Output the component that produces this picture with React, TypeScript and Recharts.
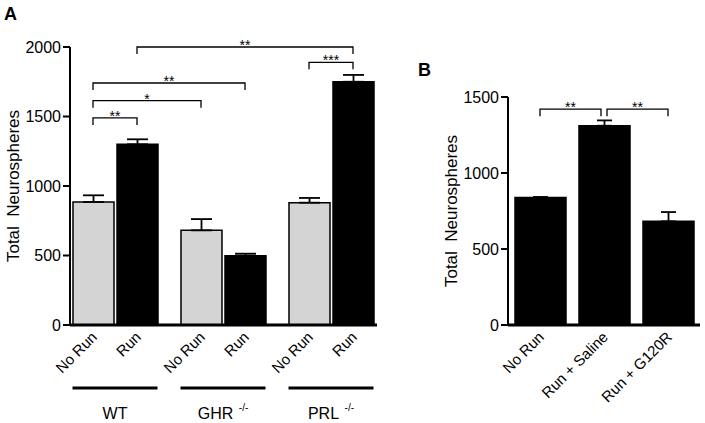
import { Bar, BarChart, ErrorBar, Label, ReferenceLine, XAxis, YAxis } from "recharts"

// Panel A
const groups = ["WT", "GHR", "PRL"]
const groupSup = ["", "-/-", "-/-"]
const treatments = ["No Run", "Run"]
const noRunA = [885, 681, 880]
const noRunErrA = [48, 81, 34]
const runA = [1300, 499, 1750]
const runErrA = [36, 14, 49]
const ticksA = [0, 500, 1000, 1500, 2000]

// significance brackets: which group / which bar (0 = No Run, 1 = Run)
const bracketsA = [
  { from: "WT", fromBar: 0, to: "WT", toBar: 1, y: 1490, label: "**" },
  { from: "WT", fromBar: 0, to: "GHR", toBar: 0, y: 1614, label: "*" },
  { from: "WT", fromBar: 0, to: "GHR", toBar: 1, y: 1741, label: "**" },
  { from: "WT", fromBar: 1, to: "PRL", toBar: 1, y: 2000, label: "**" },
  { from: "PRL", fromBar: 0, to: "PRL", toBar: 1, y: 1890, label: "***" },
]

// Panel B
const conditionsB = ["No Run", "Run + Saline", "Run + G120R"]
const valuesB = [839, 1311, 682]
const errB = [3, 35, 61]
const ticksB = [0, 500, 1000, 1500]
const bracketsB = [
  { from: "No Run", to: "Run + Saline", y: 1420, label: "**" },
  { from: "Run + Saline", to: "Run + G120R", y: 1420, label: "**" },
]

const rowsA = groups.map((g, i) => ({
  group: g,
  noRun: noRunA[i],
  noRunErr: [0, noRunErrA[i]],
  run: runA[i],
  runErr: [0, runErrA[i]],
}))

const rowsB = conditionsB.map((c, i) => ({ cond: c, value: valuesB[i], err: [0, errB[i]] }))

const FONT = "Arial, 'Liberation Sans', sans-serif"
const BAR_A = 41
const GAP_A = 3
const SUB = (BAR_A + GAP_A) / 2
const DROP = 7

const bracketShape = (label: string, dx1: number, dx2: number) => (p: any) => {
  const x1 = p.x1 + dx1
  const x2 = p.x2 + dx2
  const y = p.y1
  return (
    <g>
      <path
        d={`M${x1},${y + DROP} V${y} H${x2} V${y + DROP}`}
        fill="none"
        stroke="#000"
        strokeWidth={1.3}
      />
      <text x={(x1 + x2) / 2} y={y + 3} textAnchor="middle" fontSize={14} fill="#000">
        {label}
      </text>
    </g>
  )
}

const yTitle = (x: number) => (props: any) => {
  const vb = props.viewBox || {}
  const cy = (vb.y ?? 0) + (vb.height ?? 0) / 2
  return (
    <text
      x={x}
      y={cy}
      transform={`rotate(-90, ${x}, ${cy})`}
      textAnchor="middle"
      fontSize={17}
      fill="#000"
    >
      {"Total\u00a0\u00a0Neurospheres"}
    </text>
  )
}

function RotLabel({ x, y, text }: { x: number; y: number; text: string }) {
  return (
    <text
      x={x}
      y={y}
      textAnchor="end"
      transform={`rotate(-45, ${x}, ${y})`}
      fontSize={15}
      fill="#000"
    >
      {text}
    </text>
  )
}

function GroupTick(props: any) {
  const { x, y, payload } = props
  const i = groups.indexOf(payload.value)
  return (
    <g>
      {treatments.map((t, k) => (
        <RotLabel key={t} x={x + (k === 0 ? -SUB : SUB) + 5} y={y + 13} text={t} />
      ))}
      <line x1={x - 42.5} x2={x + 42.5} y1={y + 63} y2={y + 63} stroke="#000" strokeWidth={3} />
      <text x={x} y={y + 94} textAnchor="middle" fontSize={16} fill="#000">
        {groups[i]}
        {groupSup[i] && (
          <tspan dy={-8} fontSize={10}>
            {"\u00a0\u00a0" + groupSup[i]}
          </tspan>
        )}
      </text>
    </g>
  )
}

function CondTick(props: any) {
  const { x, y, payload } = props
  return <RotLabel x={x + 5} y={y + 13} text={payload.value} />
}

const axisLine = { stroke: "#000", strokeWidth: 2 }

export default function App() {
  return (
    <div
      style={{
        position: "absolute",
        left: 0,
        top: 0,
        width: 705,
        height: 423,
        background: "#fff",
        fontFamily: FONT,
      }}
    >
      <div style={{ position: "absolute", left: 4, top: 5, fontSize: 18, lineHeight: "18px", fontWeight: "bold" }}>
        A
      </div>
      <div style={{ position: "absolute", left: 418, top: 61, fontSize: 18, lineHeight: "18px", fontWeight: "bold" }}>
        B
      </div>

      <div style={{ position: "absolute", left: 0, top: 0 }}>
        <BarChart
          width={400}
          height={423}
          data={rowsA}
          margin={{ top: 47, right: 23, bottom: 0, left: 0 }}
          barGap={GAP_A}
        >
          <XAxis
            dataKey="group"
            height={98}
            padding={{ left: -9, right: -8 }}
            axisLine={{ stroke: "#000", strokeWidth: 3 }}
            tickLine={false}
            tickSize={0}
            tickMargin={0}
            interval={0}
            tick={<GroupTick />}
          />
          <YAxis
            width={70}
            domain={[0, 2000]}
            ticks={ticksA}
            interval={0}
            axisLine={axisLine}
            tickLine={axisLine}
            tickSize={7}
            tickMargin={2}
            tick={{ fontSize: 16, fill: "#000" }}
          >
            <Label content={yTitle(19)} />
          </YAxis>
          <Bar dataKey="noRun" fill="#d4d4d4" stroke="#000" strokeWidth={1.5} barSize={BAR_A} isAnimationActive={false}>
            <ErrorBar dataKey="noRunErr" width={10.5} stroke="#000" strokeWidth={1.8} direction="y" />
          </Bar>
          <Bar dataKey="run" fill="#000" stroke="#000" strokeWidth={1.5} barSize={BAR_A} isAnimationActive={false}>
            <ErrorBar dataKey="runErr" width={10.5} stroke="#000" strokeWidth={1.8} direction="y" />
          </Bar>
          {bracketsA.map((b, i) => (
            <ReferenceLine
              key={i}
              segment={[
                { x: b.from, y: b.y },
                { x: b.to, y: b.y },
              ]}
              shape={bracketShape(b.label, b.fromBar === 0 ? -SUB : SUB, b.toBar === 0 ? -SUB : SUB)}
            />
          ))}
        </BarChart>
      </div>

      <div style={{ position: "absolute", left: 400, top: 0 }}>
        <BarChart
          width={305}
          height={423}
          data={rowsB}
          margin={{ top: 97, right: 5, bottom: 0, left: 0 }}
        >
          <XAxis
            dataKey="cond"
            height={98}
            axisLine={{ stroke: "#000", strokeWidth: 3 }}
            tickLine={false}
            tickSize={0}
            tickMargin={0}
            interval={0}
            tick={<CondTick />}
          />
          <YAxis
            width={108}
            domain={[0, 1500]}
            ticks={ticksB}
            interval={0}
            axisLine={axisLine}
            tickLine={axisLine}
            tickSize={7}
            tickMargin={2}
            tick={{ fontSize: 16, fill: "#000" }}
          >
            <Label content={yTitle(57)} />
          </YAxis>
          <Bar dataKey="value" fill="#000" stroke="#000" strokeWidth={1.5} barSize={51} isAnimationActive={false}>
            <ErrorBar dataKey="err" width={7.5} stroke="#000" strokeWidth={1.8} direction="y" />
          </Bar>
          {bracketsB.map((b, i) => {
            const dx1 = i > 0 && bracketsB[i - 1].to === b.from ? 3 : 0
            const dx2 = i < bracketsB.length - 1 && bracketsB[i + 1].from === b.to ? -3 : 0
            return (
              <ReferenceLine
                key={i}
                segment={[
                  { x: b.from, y: b.y },
                  { x: b.to, y: b.y },
                ]}
                shape={bracketShape(b.label, dx1, dx2)}
              />
            )
          })}
        </BarChart>
      </div>
    </div>
  )
}
